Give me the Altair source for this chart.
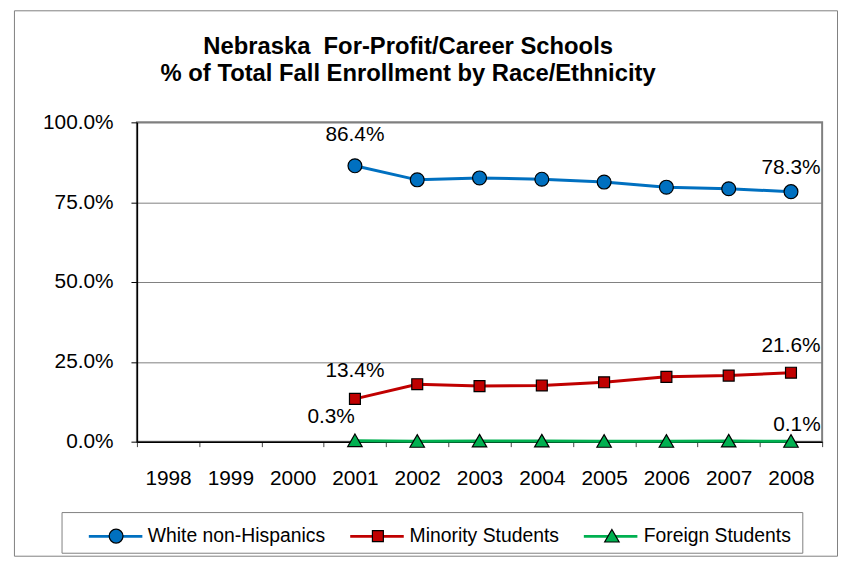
import altair as alt
import pandas as pd

# ---- data ----
all_years = ["1998", "1999", "2000", "2001", "2002", "2003", "2004", "2005", "2006", "2007", "2008"]
data_years = ["2001", "2002", "2003", "2004", "2005", "2006", "2007", "2008"]
white_pct = [86.4, 82.0, 82.6, 82.2, 81.3, 79.7, 79.2, 78.3]
minority_pct = [13.4, 18.0, 17.4, 17.6, 18.6, 20.3, 20.7, 21.6]
foreign_pct = [0.3, 0.1, 0.2, 0.2, 0.1, 0.1, 0.2, 0.1]
series_names = ["White non-Hispanics", "Minority Students", "Foreign Students"]
series_colors = ["#0070C0", "#C00000", "#00B050"]
y_ticks = [0, 0.25, 0.5, 0.75, 1.0]
title_lines = ["Nebraska\u00a0 For-Profit/Career Schools", "% of Total Fall Enrollment by Race/Ethnicity"]

rows = []
for name, vals in zip(series_names, [white_pct, minority_pct, foreign_pct]):
    for yr, v in zip(data_years, vals):
        rows.append({"year": yr, "series": name, "pct": v})
df = pd.DataFrame(rows)

FONT = "Liberation Sans"
SYM = 2916  # symbol slot 54px wide
# marker glyphs; the two leading moveTo points give every legend entry the same 54px slot
marker_paths = [
    "M-1,0 M1,0 M0.259,0 A0.259,0.259 0 1 1 -0.259,0 A0.259,0.259 0 1 1 0.259,0 Z",
    "M-1,0 M1,0 M-0.204,-0.204 L0.204,-0.204 L0.204,0.204 L-0.204,0.204 Z",
    "M-1,0 M1,0 M0,-0.25 L0.27,0.22 L-0.27,0.22 Z",
]

LX, LY = -50, 389

base = alt.Chart(df).transform_calculate(frac="datum.pct/100", series_l="datum.series")

x_enc = alt.X(
    "year:O",
    title=None,
    bandPosition=0.5,
    scale=alt.Scale(type="band", domain=all_years, paddingInner=0, paddingOuter=0),
    axis=alt.Axis(labelAngle=0, tickBand="extent", tickSize=5, labelPadding=21,
                  labelFontSize=21, labelFont=FONT, labelColor="black",
                  domainColor="black", domainWidth=1.5, tickColor="#444", grid=False),
)
y_enc = alt.Y(
    "frac:Q",
    title=None,
    scale=alt.Scale(domain=[0, 1], nice=False),
    axis=alt.Axis(values=y_ticks, format=".1%", tickSize=6, labelPadding=18,
                  labelFontSize=21, labelFont=FONT, labelColor="black",
                  domainColor="black", domainWidth=1.5, tickColor="black",
                  grid=True, gridColor="#808080", gridWidth=1),
)

legend_common = dict(orient="none", legendY=LY, direction="horizontal",
                     symbolSize=SYM, labelFontSize=19.5, labelFont=FONT, labelOffset=4,
                     labelLimit=0, padding=0, title=None)

lines = base.mark_line(strokeWidth=3).encode(
    x=x_enc, y=y_enc,
    stroke=alt.Stroke("series_l:N", sort=series_names, scale=alt.Scale(range=series_colors),
                      legend=alt.Legend(symbolType="stroke", symbolStrokeWidth=3, legendX=LX,
                                        columnPadding=18.6, labelOpacity=0, **legend_common)),
)

legend_b = alt.Legend(symbolStrokeColor="black", symbolStrokeWidth=1.2, legendX=LX + 1,
                      columnPadding=23, labelColor="black", symbolOpacity=1,
                      symbolFillColor="#0070C0", **legend_common)
points = base.mark_point(filled=False, fillOpacity=1, size=SYM, strokeWidth=1.2, opacity=1).encode(
    x=x_enc, y=y_enc,
    stroke=alt.value("black"),
    fill=alt.Fill("series:N", scale=alt.Scale(domain=series_names, range=series_colors), legend=legend_b),
    shape=alt.Shape("series:N", scale=alt.Scale(domain=series_names, range=marker_paths), legend=legend_b),
)

def label_layer(series, year, dx, dy):
    return base.transform_filter(
        f"datum.series == '{series}' && datum.year == '{year}'"
    ).mark_text(
        fontSize=21, font=FONT, color="black", dx=dx, dy=dy, baseline="middle", align="center"
    ).encode(x=x_enc, y=y_enc, text=alt.Text("frac:Q", format=".1%"))

labels = [
    label_layer("White non-Hispanics", "2001", 0, -31),
    label_layer("White non-Hispanics", "2008", 0, -24),
    label_layer("Minority Students", "2001", 0, -28),
    label_layer("Minority Students", "2008", 0, -27),
    label_layer("Foreign Students", "2001", -24, -24),
    label_layer("Foreign Students", "2008", 6, -16),
]

one = alt.Data(values=[{}])
frame = alt.Chart(one).mark_rect(filled=False, stroke="#808080", strokeWidth=1).encode(
    x=alt.value(-123.5), x2=alt.value(706.5), y=alt.value(-112.5), y2=alt.value(437.5))
legend_box = alt.Chart(one).mark_rect(filled=False, stroke="#808080", strokeWidth=1).encode(
    x=alt.value(-75.5), x2=alt.value(671.5), y=alt.value(393.5), y2=alt.value(434.5))

chart = alt.layer(frame, legend_box, lines, points, *labels).properties(
    width=691, height=322,
    autosize=alt.AutoSizeParams(type="none"),
    padding={"left": 130, "top": 113, "right": 16, "bottom": 117},
    title=alt.TitleParams(title_lines, fontSize=24, font=FONT, fontWeight="bold", color="black",
                          lineHeight=27, anchor="middle", frame="group", dx=-72, offset=-76),
    background="white",
).configure_view(stroke="#808080", strokeWidth=2)

chart.save("out.html", embed_options={"renderer": "svg", "actions": False})
